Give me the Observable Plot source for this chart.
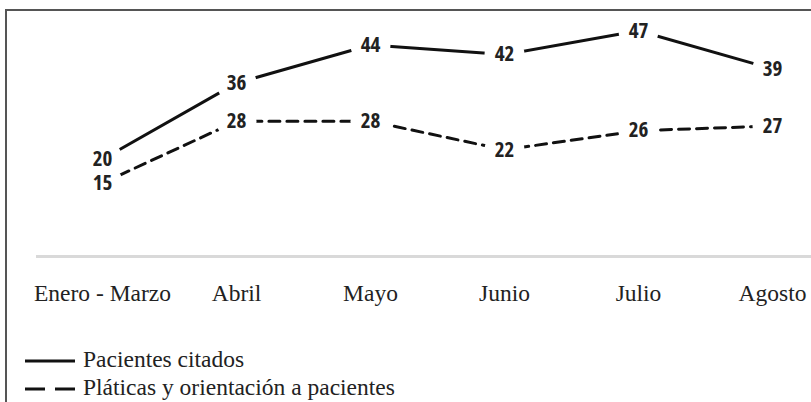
<!DOCTYPE html>
<html>
<head>
<meta charset="utf-8">
<script src="https://cdn.jsdelivr.net/npm/d3@7"></script>
<script src="https://cdn.jsdelivr.net/npm/@observablehq/plot@0.6"></script>
<style>
  html, body { margin: 0; padding: 0; background: #fff; }
  body { width: 811px; height: 402px; overflow: hidden; position: relative; }
  #frame { position: absolute; left: 5px; top: 9px; width: 900px; height: 500px;
           border-top: 2px solid #555; border-left: 2px solid #555; pointer-events: none; z-index: 2; }
  #chart { position: absolute; left: 0; top: 0; }
  #chart g[aria-label="text"] text { font-stretch: condensed; }
  #legend { position: absolute; left: 0; top: 330px; width: 811px;
            font-family: 'Liberation Serif'; font-size: 23.5px; color: #222; }
  .row { position: absolute; left: 0; height: 27px; line-height: 27px; display: flex; align-items: center; }
  .row svg { margin-left: 25px; width: 52px; height: 27px; }
  .row span { position: absolute; left: 83px; top: 0; white-space: nowrap; }
</style>
</head>
<body>
<div id="chart"></div>
<div id="legend"></div>
<div id="frame"></div>
<script>
const categories = ["Enero - Marzo", "Abril", "Mayo", "Junio", "Julio", "Agosto"];
const citados = [20, 36, 44, 42, 47, 39];
const platicas = [15, 28, 28, 22, 26, 27];
const seriesNames = ["Pacientes citados", "Pláticas y orientación a pacientes"];

const rows = [];
categories.forEach((c, i) => {
  rows.push({cat: c, value: citados[i], serie: seriesNames[0]});
  rows.push({cat: c, value: platicas[i], serie: seriesNames[1]});
});
const s1 = rows.filter(d => d.serie === seriesNames[0]);
const s2 = rows.filter(d => d.serie === seriesNames[1]);

const plot = Plot.plot({
  width: 811,
  height: 330,
  marginLeft: 36,
  marginRight: 0,
  marginTop: 0,
  marginBottom: 74,
  style: {fontFamily: "Liberation Serif", fontSize: "23.5px", color: "#222", background: "transparent"},
  x: {type: "point", domain: categories, range: [102, 772], padding: 0, label: null},
  y: {domain: [0, 50], range: [254, 16], axis: null},
  marks: [
    Plot.ruleY([0], {stroke: "#d9d9d9", strokeWidth: 3, dy: 2}),
    Plot.axisX({tickSize: 0, tickPadding: 28, fontSize: 23.5, fill: "#222", label: null}),
    Plot.line(s1, {x: "cat", y: "value", stroke: "#111", strokeWidth: 3}),
    Plot.line(s2, {x: "cat", y: "value", stroke: "#111", strokeWidth: 3, strokeDasharray: "11,7"}),
    Plot.dot(rows, {x: "cat", y: "value", r: 20, fill: "white", stroke: "none"}),
    Plot.text(rows, {x: "cat", y: "value", text: d => String(d.value),
      fontFamily: "Open Sans", fontWeight: "bold", fontSize: 21, fill: "#222"})
  ]
});
document.getElementById("chart").appendChild(plot);

const legend = document.getElementById("legend");
const dashes = ["none", "20,10"];
seriesNames.forEach((name, i) => {
  const row = document.createElement("div");
  row.className = "row";
  row.style.top = (16 + i * 28) + "px";
  row.innerHTML = `<svg viewBox="0 0 52 27"><line x1="0" x2="50" y1="15" y2="15" stroke="#111" stroke-width="3" stroke-dasharray="${dashes[i]}"/></svg><span>${name}</span>`;
  legend.appendChild(row);
});
</script>
</body>
</html>
